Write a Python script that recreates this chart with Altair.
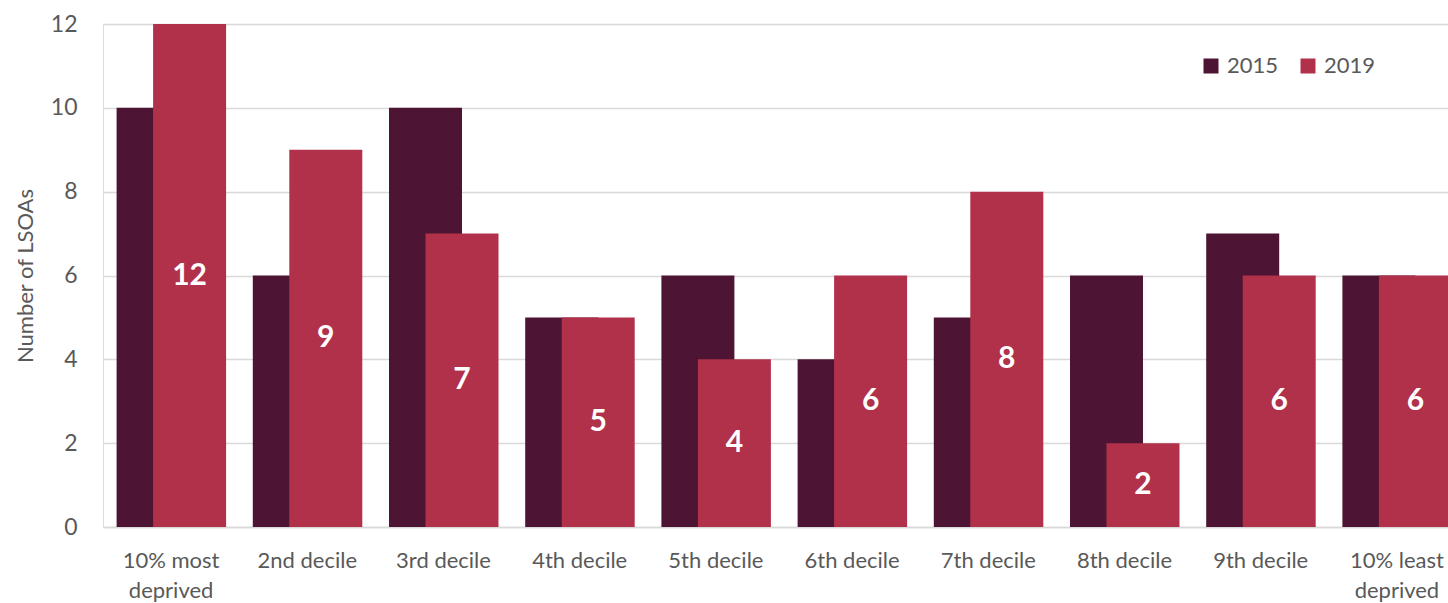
import altair as alt
import pandas as pd

# Deprivation deciles and LSOA counts per year
categories = [
    "10% most\ndeprived", "2nd decile", "3rd decile", "4th decile", "5th decile",
    "6th decile", "7th decile", "8th decile", "9th decile", "10% least\ndeprived",
]
counts_2015 = [10, 6, 10, 5, 6, 4, 5, 6, 7, 6]
counts_2019 = [12, 9, 7, 5, 4, 6, 8, 2, 6, 6]
years = ["2015", "2019"]
colors = ["#4D1433", "#B1314B"]

rows = []
for c, a, b in zip(categories, counts_2015, counts_2019):
    rows.append({"decile": c, "year": "2015", "count": a})
    rows.append({"decile": c, "year": "2019", "count": b})
df = pd.DataFrame(rows)

FONT = "Lato"
GREY = "#595959"

x_enc = alt.X(
    "decile:N",
    sort=categories,
    scale=alt.Scale(range=[0, 1362], paddingInner=0, paddingOuter=0),
    axis=alt.Axis(
        title=None,
        labelAngle=0,
        labelExpr="split(datum.label, '\\n')",
        labelFont=FONT,
        labelFontSize=22,
        labelColor=GREY,
        labelPadding=23,
        labelLineHeight=30,
        labelBaseline="top",
        ticks=False,
        domain=True,
        domainColor="#D9D9D9",
        domainWidth=1.5,
        labelOverlap=False,
        labelBound=False,
    ),
)
y_enc = alt.Y(
    "count:Q",
    scale=alt.Scale(domain=[0, 12], nice=False),
    axis=alt.Axis(
        title="Number of LSOAs",
        values=[0, 2, 4, 6, 8, 10, 12],
        labelFont=FONT,
        labelFontSize=23,
        labelColor=GREY,
        labelPadding=26,
        titleFont=FONT,
        titleFontSize=22,
        titleFontWeight="normal",
        titleColor=GREY,
        titlePadding=13,
        ticks=False,
        domain=False,
        gridColor="#D9D9D9",
        gridWidth=1.5,
    ),
)
color_enc = alt.Color(
    "year:N",
    scale=alt.Scale(domain=years, range=colors),
    legend=alt.Legend(
        title=None,
        orient="none",
        legendX=1097,
        legendY=31,
        direction="horizontal",
        symbolType="square",
        symbolSize=225,
        symbolStrokeWidth=0,
        labelFont=FONT,
        labelFontSize=22,
        labelColor=GREY,
        labelOffset=5,
        columnPadding=18,
        padding=0,
    ),
)

base = alt.Chart(df)

bars_2015 = base.transform_filter(alt.datum.year == "2015").mark_bar(
    size=73, xOffset=-18
).encode(x=x_enc, y=y_enc, color=color_enc)

bars_2019 = base.transform_filter(alt.datum.year == "2019").mark_bar(
    size=73, xOffset=18.5
).encode(x=x_enc, y=y_enc, color=color_enc)

labels = base.transform_filter(alt.datum.year == "2019").transform_calculate(
    mid="datum.count / 2"
).mark_text(
    xOffset=18.5, font=FONT, fontSize=30, fontWeight="bold", color="white",
    baseline="middle", align="center",
).encode(
    x=alt.X("decile:N", sort=categories),
    y=alt.Y("mid:Q"),
    text=alt.Text("count:Q"),
)

chart = alt.layer(bars_2015, bars_2019, labels).properties(
    width=1345,
    height=503,
    autosize=alt.AutoSizeParams(type="none"),
    padding={"left": 103, "top": 24, "right": 0, "bottom": 76},
).configure_view(stroke=None).configure(background="white")

chart.save("out.html", embed_options={"renderer": "svg", "actions": False})
